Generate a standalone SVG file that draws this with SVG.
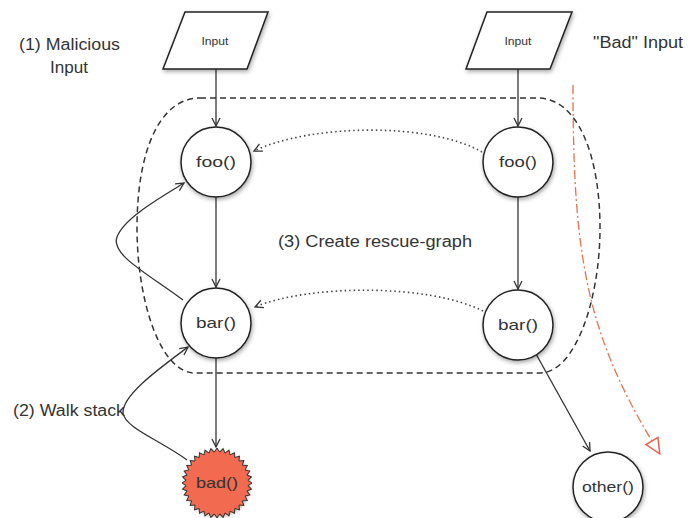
<svg xmlns="http://www.w3.org/2000/svg" xmlns:xlink="http://www.w3.org/1999/xlink" width="690" height="518" viewBox="0 0 690 518">
<style>
text{font-family:"Liberation Sans",Arial,sans-serif;fill:#333}
.lbl{font-size:16px}
.nl{font-size:15px;text-anchor:middle}
.il{font-size:11px;text-anchor:middle}
.node{fill:#fff;stroke:#222;stroke-width:1.5;filter:url(#sh)}
.edge{fill:none;stroke:#333;stroke-width:1.3}
.dot{fill:none;stroke:#444;stroke-width:1.6;stroke-dasharray:1.5,3}
.region{fill:none;stroke:#333;stroke-width:1.5;stroke-dasharray:6,4}
.red{fill:none;stroke:#e8704a;stroke-width:1.3;stroke-dasharray:9,3,2,3}
.tooth{fill:#f26a50;stroke:#333;stroke-width:1}
</style>
<defs>
<filter id="sh" x="-30%" y="-30%" width="160%" height="160%"><feDropShadow dx="1" dy="2" stdDeviation="2" flood-color="#000" flood-opacity="0.35"/></filter>
<marker id="arr" viewBox="0 0 10 10" refX="9" refY="5" markerWidth="10" markerHeight="10" markerUnits="userSpaceOnUse" orient="auto"><path d="M1,1 L9,5 L1,9" fill="none" stroke="#333" stroke-width="1.3"/></marker>
<marker id="tri" viewBox="0 0 20 20" refX="2" refY="10" markerWidth="20" markerHeight="20" markerUnits="userSpaceOnUse" orient="auto"><path d="M2,3 L17,10 L2,17 Z" fill="#fff" stroke="#e8604a" stroke-width="1.5"/></marker>
<path id="tooth" class="tooth" d="M-2.7,-30.9 L0,-35 L2.7,-30.9"/>
</defs>
<rect width="690" height="518" fill="#fff"/>

<g id="region"><path class="region" d="M200,98 L537,98 C580,98 600,160 600,228 C600,300 575,373 540,373 L195,373 C160,373 137,300 137,228 C137,150 160,98 200,98 Z"/></g>

<g id="connectors">
<line class="edge" x1="216" y1="69" x2="216" y2="126" marker-end="url(#arr)"/>
<line class="edge" x1="518" y1="69" x2="518" y2="126" marker-end="url(#arr)"/>
<line class="edge" x1="216" y1="197" x2="216" y2="287" marker-end="url(#arr)"/>
<line class="edge" x1="518" y1="197" x2="518" y2="289" marker-end="url(#arr)"/>
<line class="edge" x1="216" y1="358" x2="216" y2="447" marker-end="url(#arr)"/>
<line class="edge" x1="536" y1="354" x2="590" y2="451" marker-end="url(#arr)"/>
<path class="dot" d="M482,152 C430,122 310,124 254,151" marker-end="url(#arr)"/>
<path class="dot" d="M483,311 C430,284 310,284 255,307" marker-end="url(#arr)"/>
<path class="edge" d="M183,300 C150,275 110,255 117,237 C124,218 160,198 184,183" marker-end="url(#arr)"/>
<path class="edge" d="M187,460 C160,440 125,428 123,413 C122,395 160,368 188,347" marker-end="url(#arr)"/>
<path class="red" d="M573,85 C573,250 585,330 652,441" marker-end="url(#tri)"/>
</g>

<g id="input-left"><polygon class="node" points="185,12 268,12 247,69 163,69"/><text class="il" x="215" y="45" textLength="27" lengthAdjust="spacingAndGlyphs">Input</text></g>
<g id="input-right"><polygon class="node" points="487,12 572,12 550,69 466,69"/><text class="il" x="518" y="45" textLength="27" lengthAdjust="spacingAndGlyphs">Input</text></g>
<g id="foo-left"><circle class="node" cx="216" cy="162" r="35"/><text class="nl" x="216" y="167" textLength="40" lengthAdjust="spacingAndGlyphs">foo()</text></g>
<g id="bar-left"><circle class="node" cx="216" cy="323" r="35"/><text class="nl" x="216" y="328" textLength="40" lengthAdjust="spacingAndGlyphs">bar()</text></g>
<g id="foo-right"><circle class="node" cx="518" cy="162" r="35"/><text class="nl" x="518" y="167" textLength="38" lengthAdjust="spacingAndGlyphs">foo()</text></g>
<g id="bar-right"><circle class="node" cx="518" cy="325" r="35"/><text class="nl" x="518" y="330" textLength="40" lengthAdjust="spacingAndGlyphs">bar()</text></g>
<g id="other"><circle class="node" cx="608" cy="487" r="35"/><text class="nl" x="608" y="492" textLength="52" lengthAdjust="spacingAndGlyphs">other()</text></g>
<g id="bad" transform="translate(217,483)">
<circle r="31.5" fill="#f26a50" filter="url(#sh)"/>
<use xlink:href="#tooth"/><use xlink:href="#tooth" transform="rotate(10)"/><use xlink:href="#tooth" transform="rotate(20)"/><use xlink:href="#tooth" transform="rotate(30)"/><use xlink:href="#tooth" transform="rotate(40)"/><use xlink:href="#tooth" transform="rotate(50)"/><use xlink:href="#tooth" transform="rotate(60)"/><use xlink:href="#tooth" transform="rotate(70)"/><use xlink:href="#tooth" transform="rotate(80)"/><use xlink:href="#tooth" transform="rotate(90)"/><use xlink:href="#tooth" transform="rotate(100)"/><use xlink:href="#tooth" transform="rotate(110)"/><use xlink:href="#tooth" transform="rotate(120)"/><use xlink:href="#tooth" transform="rotate(130)"/><use xlink:href="#tooth" transform="rotate(140)"/><use xlink:href="#tooth" transform="rotate(150)"/><use xlink:href="#tooth" transform="rotate(160)"/><use xlink:href="#tooth" transform="rotate(170)"/><use xlink:href="#tooth" transform="rotate(180)"/><use xlink:href="#tooth" transform="rotate(190)"/><use xlink:href="#tooth" transform="rotate(200)"/><use xlink:href="#tooth" transform="rotate(210)"/><use xlink:href="#tooth" transform="rotate(220)"/><use xlink:href="#tooth" transform="rotate(230)"/><use xlink:href="#tooth" transform="rotate(240)"/><use xlink:href="#tooth" transform="rotate(250)"/><use xlink:href="#tooth" transform="rotate(260)"/><use xlink:href="#tooth" transform="rotate(270)"/><use xlink:href="#tooth" transform="rotate(280)"/><use xlink:href="#tooth" transform="rotate(290)"/><use xlink:href="#tooth" transform="rotate(300)"/><use xlink:href="#tooth" transform="rotate(310)"/><use xlink:href="#tooth" transform="rotate(320)"/><use xlink:href="#tooth" transform="rotate(330)"/><use xlink:href="#tooth" transform="rotate(340)"/><use xlink:href="#tooth" transform="rotate(350)"/>
<text class="nl" x="0" y="5" textLength="42" lengthAdjust="spacingAndGlyphs">bad()</text>
</g>

<g id="labels">
<text class="lbl" x="19" y="50" textLength="101" lengthAdjust="spacingAndGlyphs">(1) Malicious</text>
<text class="lbl" x="50" y="73" textLength="38" lengthAdjust="spacingAndGlyphs">Input</text>
<text class="lbl" x="13" y="416" textLength="112" lengthAdjust="spacingAndGlyphs">(2) Walk stack</text>
<text class="lbl" x="278" y="247" textLength="194" lengthAdjust="spacingAndGlyphs">(3) Create rescue-graph</text>
<text class="lbl" x="593" y="48" textLength="90" lengthAdjust="spacingAndGlyphs">"Bad" Input</text>
</g>
</svg>
